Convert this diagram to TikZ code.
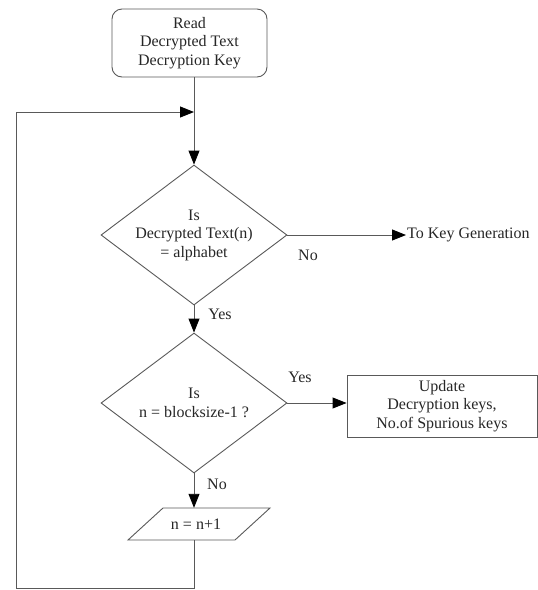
\documentclass[tikz,border=0pt]{standalone}
\usepackage{fontspec}
\setmainfont{Liberation Serif}
\usetikzlibrary{shapes.geometric,arrows.meta}
\begin{document}
\begin{tikzpicture}[x=1pt,y=-1pt,
  font=\fontsize{16}{18.5}\selectfont,
  line/.style={draw=black!65, line width=0.9pt},
  arr/.style={line, -{Triangle[length=14pt,width=11pt,fill=black,color=black]}},
  box/.style={line, rectangle, align=center, text=black!85},
  dec/.style={line, diamond, aspect=1.33, minimum width=186pt, minimum height=140pt, inner sep=0pt, align=center, text=black!85},
  lbl/.style={text=black!85, inner sep=1pt}]
\useasboundingbox (0,0) rectangle (538,590);

\node[box, rounded corners=10pt, minimum width=155pt, minimum height=68pt] (top) at (189.5,43) {Read\\Decrypted Text\\Decryption Key};
\node[dec] (d1) at (194,235) {Is\\Decrypted Text(n)\\= alphabet};
\node[dec] (d2) at (194,403) {Is\\n = blocksize-1 ?};
\node[box, minimum width=190pt, minimum height=62pt] (upd) at (442,406) {Update\\Decryption keys,\\No.of Spurious keys};
\node[lbl, anchor=west] (keygen) at (406,235) {To Key Generation};
\node[minimum width=107pt, minimum height=32pt, inner sep=0pt, text=black!85] (para) at (196,524) {n = n+1};
\draw[line] (128,540) -- (163,508) -- (270,508) -- (235,540) -- cycle;

\node[lbl] (no1) at (308,255) {No};
\node[lbl] (yes1) at (220,314) {Yes};
\node[lbl] (yes2) at (300,377) {Yes};
\node[lbl] (no2) at (217,484) {No};

\coordinate (loopbl) at (16,588);
\coordinate (merge) at (194,112);

\draw[arr] (top.south -| d1.north) -- (d1.north);
\draw[arr] (d1.east) -- (keygen.west);
\draw[arr] (d1.south) -- (d2.north);
\draw[arr] (d2.east) -- (d2.east -| upd.west);
\draw[arr] (d2.south) -- (d2.south |- para.north);
\draw[arr] (para.south -| d2.south) |- (loopbl) |- (merge);
\end{tikzpicture}
\end{document}
